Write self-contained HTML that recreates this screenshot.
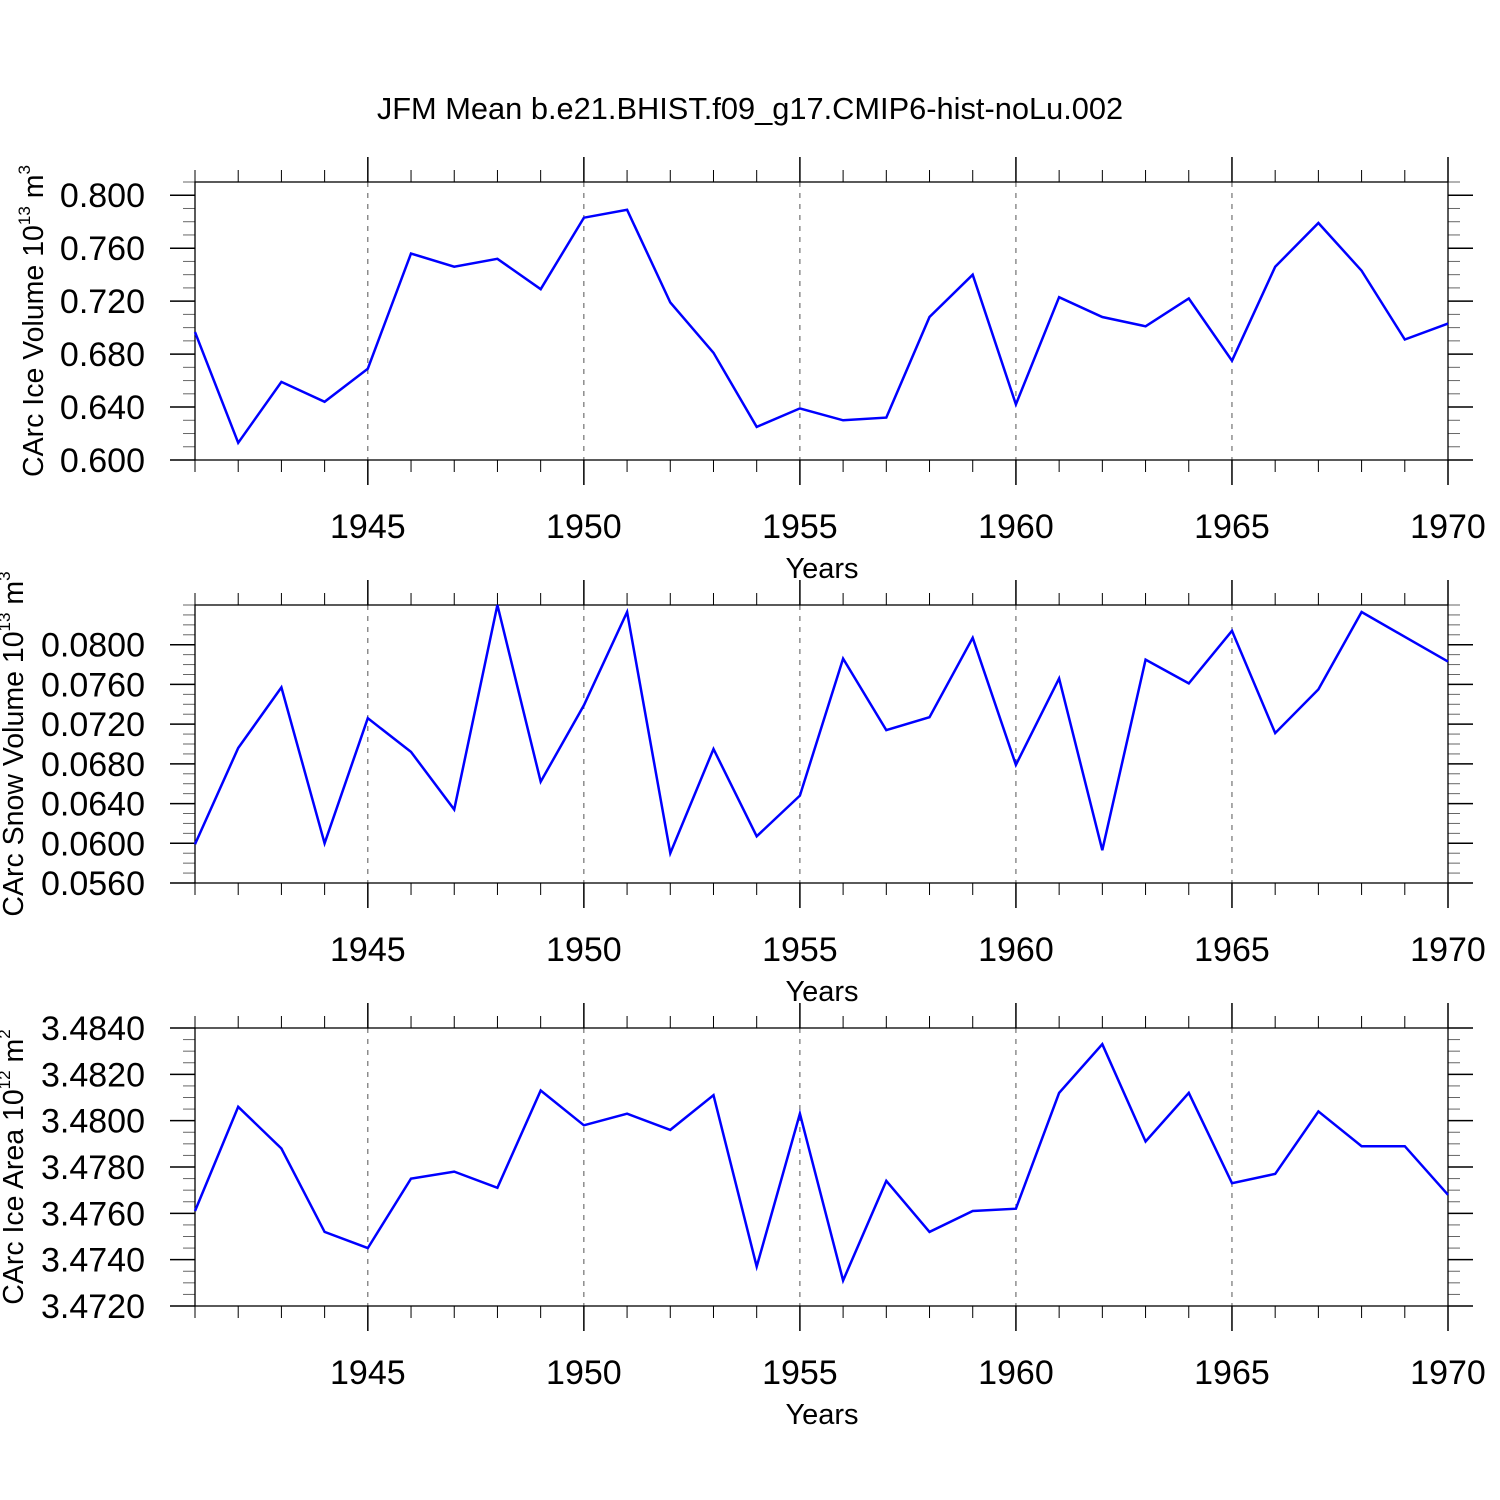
<!DOCTYPE html>
<html><head><meta charset="utf-8"><style>
body{margin:0;background:#fff}
svg{display:block;font-family:"Liberation Sans",Arial,sans-serif}
</style></head><body>
<svg id="chart" width="1500" height="1500" xmlns="http://www.w3.org/2000/svg">
<text x="750" y="119" font-size="30.8" text-anchor="middle">JFM Mean b.e21.BHIST.f09_g17.CMIP6-hist-noLu.002</text>
</svg>
<script>
const years=[1941,1942,1943,1944,1945,1946,1947,1948,1949,1950,1951,1952,1953,1954,1955,1956,1957,1958,1959,1960,1961,1962,1963,1964,1965,1966,1967,1968,1969,1970];
const iceVolume=[0.6966,0.613,0.659,0.644,0.669,0.756,0.746,0.752,0.729,0.783,0.789,0.719,0.681,0.625,0.639,0.630,0.632,0.708,0.740,0.642,0.723,0.708,0.701,0.722,0.675,0.746,0.779,0.743,0.691,0.703];
const snowVolume=[0.0599,0.0696,0.0757,0.0600,0.0726,0.0692,0.0634,0.0840,0.0662,0.0739,0.0833,0.0590,0.0695,0.0607,0.0648,0.0786,0.0714,0.0727,0.0807,0.0679,0.0766,0.0593,0.0785,0.0761,0.0814,0.0711,0.0755,0.0833,0.0808,0.0783];
const iceArea=[3.4761,3.4806,3.4788,3.4752,3.4745,3.4775,3.4778,3.4771,3.4813,3.4798,3.4803,3.4796,3.4811,3.4737,3.4803,3.4731,3.4774,3.4752,3.4761,3.4762,3.4812,3.4833,3.4791,3.4812,3.4773,3.4777,3.4804,3.4789,3.4789,3.4768];
const xTicks=[1945,1950,1955,1960,1965,1970];
const ticks1=[0.600,0.640,0.680,0.720,0.760,0.800];
const ticks2=[0.0560,0.0600,0.0640,0.0680,0.0720,0.0760,0.0800];
const ticks3=[3.4720,3.4740,3.4760,3.4780,3.4800,3.4820,3.4840];

const NS='http://www.w3.org/2000/svg';
const svg=document.getElementById('chart');
const X0=195,X1=1448;
function xs(y){return X0+(y-1941)/(1970-1941)*(X1-X0);}
function el(t,a,p){const e=document.createElementNS(NS,t);for(const k in a)e.setAttribute(k,a[k]);(p||svg).appendChild(e);return e;}

function panel(name,top,ymin,ymax,ticks,dec,minorStep,data,label,exp,titleX){
  const bot=top+278;
  const ys=v=>bot-(v-ymin)/(ymax-ymin)*(bot-top);
  const g=el('g',{});
  
  
  xTicks.forEach(t=>{if(t<1970){const l=el('line',{x1:xs(t),x2:xs(t),y1:top,y2:bot,stroke:'#555','stroke-width':1,'stroke-dasharray':'5,6'},g);
    }});
  years.forEach(y=>{const x=xs(y);const maj=xTicks.includes(y);
    el('line',{x1:x,x2:x,y1:top-(maj?25:12),y2:top,stroke:'#000','stroke-width':maj?1.5:1},g);
    el('line',{x1:x,x2:x,y1:bot,y2:bot+(maj?25:12),stroke:'#000','stroke-width':maj?1.5:1},g);});
  const n=Math.round((ymax-ymin)/minorStep);
  for(let i=0;i<=n;i++){const v=ymin+i*minorStep;const y=ys(v);
    const maj=ticks.some(t=>Math.abs(t-v)<minorStep/10);
    el('line',{x1:X0-(maj?25:12),x2:X0,y1:y,y2:y,stroke:maj?'#000':'#666','stroke-width':maj?1.5:1},g);
    el('line',{x1:X1,x2:X1+(maj?25:12),y1:y,y2:y,stroke:maj?'#000':'#666','stroke-width':maj?1.5:1},g);}
  const fr=el('rect',{x:X0,y:top,width:X1-X0,height:bot-top,fill:'none',stroke:'#000','stroke-width':1.3},g);
  
  ticks.forEach(t=>{const tx=el('text',{x:145,y:ys(t)+12,'font-size':34,'text-anchor':'end'},g);tx.textContent=t.toFixed(dec);
    });
  xTicks.forEach(t=>{const tx=el('text',{x:xs(t),y:bot+78,'font-size':34,'text-anchor':'middle'},g);tx.textContent=t;
    });
  const xt=el('text',{x:822,y:bot+118,'font-size':29,'text-anchor':'middle'},g);xt.textContent='Years';
  
  const yt=el('text',{transform:`translate(${titleX},${(top+bot)/2}) rotate(-90)`,'font-size':28.5,'text-anchor':'middle'},g);
  
  yt.textContent=label+' 10';
  const sp=el('tspan',{dy:-13,'font-size':17},yt);sp.textContent=exp;
  const sp2=el('tspan',{dy:13},yt);sp2.textContent=' m';
  const sp3=el('tspan',{dy:-13,'font-size':17},yt);sp3.textContent=label.includes('Area')?'2':'3';
  const pts=data.map((v,i)=>xs(years[i]).toFixed(1)+','+ys(v).toFixed(1)).join(' ');
  const pl=el('polyline',{points:pts,fill:'none',stroke:'#0000ff','stroke-width':2.5,'stroke-linejoin':'miter'},g);
  
}
panel('ice-volume',182,0.600,0.810,ticks1,3,0.01,iceVolume,'CArc Ice Volume','13',43);
panel('snow-volume',605,0.0560,0.0840,ticks2,4,0.001,snowVolume,'CArc Snow Volume','13',23);
panel('ice-area',1028,3.4720,3.4840,ticks3,4,0.0005,iceArea,'CArc Ice Area','12',23);
</script>
</body></html>
